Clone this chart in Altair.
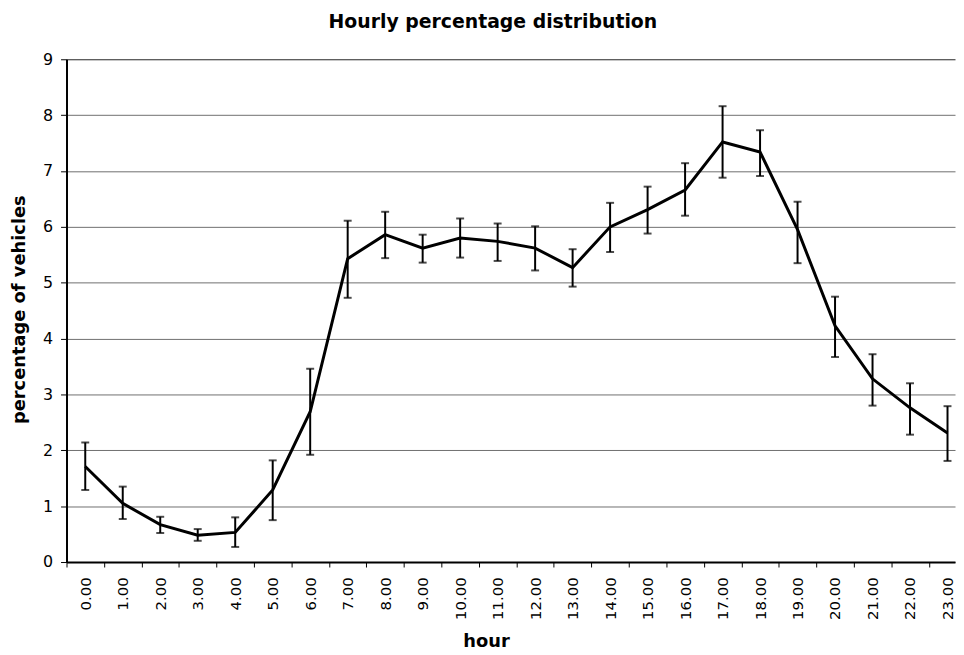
import altair as alt
import pandas as pd

hours = list(range(24))
pct = [1.71, 1.05, 0.67, 0.48, 0.53, 1.29, 2.69, 5.43, 5.86, 5.62, 5.80, 5.74,
       5.62, 5.27, 6.00, 6.31, 6.66, 7.52, 7.34, 5.95, 4.23, 3.28, 2.76, 2.31]
low = [1.29, 0.77, 0.52, 0.38, 0.27, 0.75, 1.92, 4.73, 5.44, 5.36, 5.45, 5.39,
       5.22, 4.93, 5.55, 5.88, 6.20, 6.88, 6.91, 5.35, 3.67, 2.80, 2.28, 1.81]
high = [2.14, 1.35, 0.81, 0.59, 0.80, 1.82, 3.46, 6.11, 6.27, 5.86, 6.15, 6.06,
        6.01, 5.60, 6.43, 6.72, 7.14, 8.16, 7.73, 6.45, 4.75, 3.72, 3.20, 2.79]
y_ticks = list(range(10))
x_bounds = [h - 0.5 for h in hours]

df = pd.DataFrame({"hour": hours, "pct": pct, "low": low, "high": high})

W, H = 896, 507
FONT = "DejaVu Sans"

x_scale = alt.Scale(domain=[-0.5, 23.2], nice=False, zero=False)
y_scale = alt.Scale(domain=[0, 9], nice=False)

x_axis = alt.Axis(
    title="hour",
    values=x_bounds,
    labelExpr="format(datum.value + 0.5, '.2f')",
    labelAngle=270,
    labelOffset=18.9,
    labelOverlap=False,
    labelFlush=False,
    labelPadding=10,
    labelFont=FONT,
    labelFontSize=15,
    labelColor="black",
    tickSize=5,
    tickColor="black",
    domainColor="black",
    domainWidth=2,
    grid=False,
    titleFont=FONT,
    titleFontSize=18,
    titleFontWeight="bold",
    titleColor="black",
    titleX=423,
    titleY=85,
    titleBaseline="alphabetic",
    titleAlign="center",
)

y_axis = alt.Axis(
    title="percentage of vehicles",
    values=y_ticks,
    format="d",
    labelFont=FONT,
    labelFontSize=16,
    labelColor="black",
    labelPadding=8,
    tickSize=6,
    tickColor="black",
    domainColor="black",
    domainWidth=2,
    grid=True,
    gridColor=alt.condition("datum.value == 9", alt.value("#222222"), alt.value("#6e6e6e")),
    gridWidth=1,
    titleFont=FONT,
    titleFontSize=18,
    titleFontWeight="bold",
    titleColor="black",
    titleX=-47,
    titleY=252,
    titleAngle=270,
    titleAlign="center",
    titleBaseline="middle",
)

x_enc = alt.X("hour:Q", scale=x_scale, axis=x_axis)

line = alt.Chart(df).mark_line(color="black", strokeWidth=3).encode(
    x=x_enc,
    y=alt.Y("pct:Q", scale=y_scale, axis=y_axis),
)

err = alt.Chart(df).mark_errorbar(ticks=True, size=8, thickness=2, color="black").encode(
    x=x_enc,
    y=alt.Y("low:Q", scale=y_scale, axis=y_axis),
    y2="high:Q",
)

chart = (
    alt.layer(line, err)
    .properties(
        width=W,
        height=H,
        title=alt.TitleParams(
            "Hourly percentage distribution",
            font=FONT,
            fontSize=19,
            fontWeight="bold",
            color="black",
            anchor="middle",
            dx=-18,
            baseline="alphabetic",
            offset=5,
        ),
        autosize=alt.AutoSizeParams(type="none"),
        padding={"left": 59, "top": 49, "right": 1, "bottom": 86},
        background="white",
    )
    .configure_view(stroke=None)
)

chart.save("out.html", embed_options={"renderer": "svg", "actions": False})
